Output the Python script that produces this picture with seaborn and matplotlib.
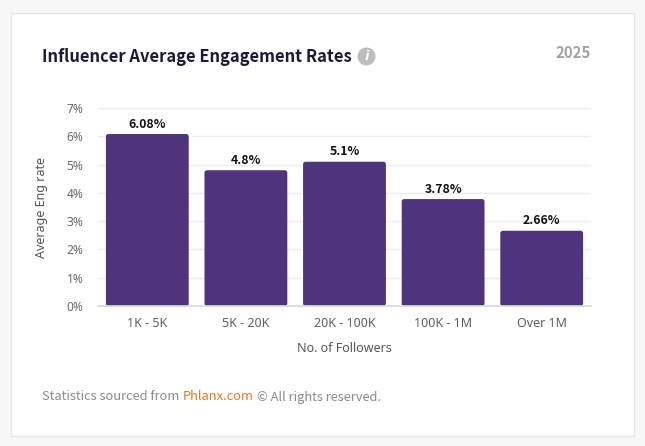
import matplotlib
matplotlib.use("Agg")
import matplotlib.pyplot as plt
import pandas as pd
import seaborn as sns
from matplotlib.patches import Circle, FancyBboxPatch, Rectangle
from matplotlib.ticker import FuncFormatter
from matplotlib.transforms import IdentityTransform

tiers = ["1K - 5K", "5K - 20K", "20K - 100K", "100K - 1M", "Over 1M"]
rates = [6.08, 4.8, 5.1, 3.78, 2.66]
rate_labels = ["6.08%", "4.8%", "5.1%", "3.78%", "2.66%"]
yticks = [0, 1, 2, 3, 4, 5, 6, 7]

W, H = 645, 446
PURPLE = "#4d347d"
HEAD = ["Noto Sans CJK JP", "DejaVu Sans"]

sns.set_theme(style="white")
plt.rcParams["font.family"] = ["Noto Sans", "DejaVu Sans"]

df = pd.DataFrame({"tier": tiers, "rate": rates})

fig = plt.figure(figsize=(W / 100, H / 100), dpi=100, facecolor="#f7f7f7")


def px(size):
    return size * 0.72


def fig_text(x, y, s, **kw):
    return fig.text(x / W, 1 - y / H, s, **kw)


# card behind the chart
fig.add_artist(Rectangle((10.5, H - 436), 623, 423.5, transform=IdentityTransform(),
                         facecolor="white", edgecolor="#e4e4e4", linewidth=1, zorder=-5))

ax_w, ax_h = 493, 198
ax = fig.add_axes([98 / W, 1 - 306 / H, ax_w / W, ax_h / H])
ax.patch.set_alpha(0)
sns.barplot(data=df, x="tier", y="rate", color=PURPLE, saturation=1, width=0.84, ax=ax)

ax.set_ylim(0, 7)
ax.set_yticks(yticks)
ax.yaxis.set_major_formatter(FuncFormatter(lambda v, _: f"{v:.0f}%"))

# slightly rounded corners: swap each bar for a rounded box of the same size
x_per_px = (ax.get_xlim()[1] - ax.get_xlim()[0]) / ax_w
y_per_px = 7 / ax_h
for bar in list(ax.patches):
    box = FancyBboxPatch((bar.get_x(), bar.get_y()), bar.get_width(), bar.get_height(),
                         boxstyle=f"round,pad=0,rounding_size={2.5 * x_per_px}",
                         mutation_aspect=y_per_px / x_per_px,
                         facecolor=PURPLE, edgecolor="none", zorder=bar.get_zorder())
    bar.remove()
    ax.add_patch(box)

ax.grid(axis="y", color="#ececec", linewidth=1)
ax.set_axisbelow(True)
sns.despine(ax=ax, left=True, top=True, right=True)
ax.spines["bottom"].set_color("#d8d8e0")
ax.tick_params(axis="y", length=0, pad=10.5, labelsize=px(12), labelcolor="#6a6a6a")
ax.tick_params(axis="x", length=0, pad=8, labelsize=px(12.5), labelcolor="#5f5f5f")

ax.set_xlabel("No. of Followers", fontsize=px(12.5), color="#555555", labelpad=8.5)
ax.set_ylabel("Average Eng rate", fontsize=px(12.5), color="#555555")
ax.yaxis.set_label_coords((48 - 98) / ax_w, 0.5)

for i, (v, s) in enumerate(zip(rates, rate_labels)):
    ax.annotate(s, (i, v), xytext=(0, 2.5), textcoords="offset points", ha="center",
                va="bottom", fontsize=px(12.3), fontweight="bold", color="#111111", family=HEAD)

fig_text(42, 57, "Influencer Average Engagement Rates", fontsize=px(16.5), fontweight="bold",
         color="#1d1a39", va="center", family=HEAD)
fig_text(591, 52.5, "2025", fontsize=px(15), fontweight="bold", color="#a3a3a3", va="center", ha="right", family=HEAD)

# info icon
fig.add_artist(Circle((366.5, H - 56.5), 9, transform=IdentityTransform(), facecolor="#bdbdbd", edgecolor="none"))
fig_text(366.5, 56.5, "i", fontsize=px(13), fontweight="bold", fontstyle="italic", color="white",
         ha="center", va="center", family="DejaVu Sans")

# footer, three pieces laid end to end
rend = fig.canvas.get_renderer()
x = 42
for s, c in [("Statistics sourced from", "#8a8a8a"), ("Phlanx.com", "#e07b26"), ("\u00a9 All rights reserved.", "#8a8a8a")]:
    t = fig_text(x, 397, s, fontsize=px(12.9), color=c, va="center", family=HEAD)
    x = t.get_window_extent(rend).x1 + 3.2

fig.savefig("out.png", dpi=100, facecolor=fig.get_facecolor())
